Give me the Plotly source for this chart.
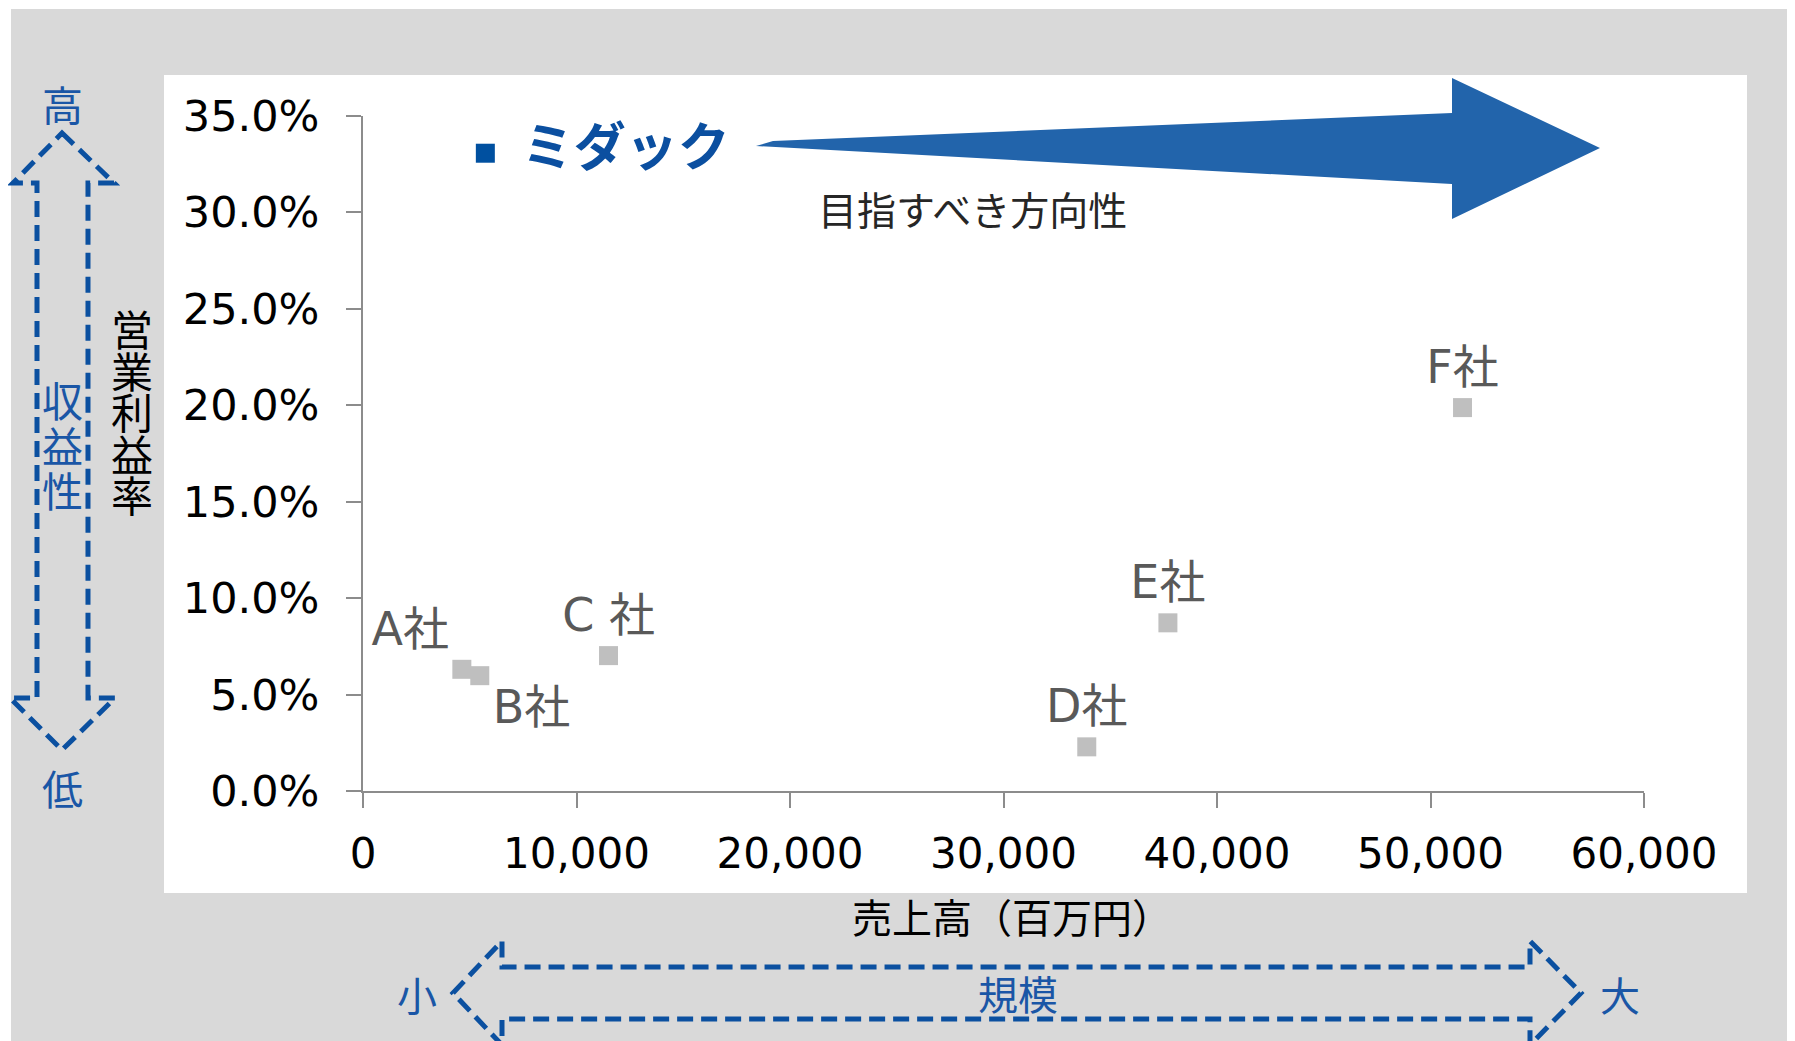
import plotly.graph_objects as go

# ---------------- data ----------------
companies = ["A社", "B社", "C 社", "D社", "E社", "F社"]
sales = [4630, 5470, 11500, 33900, 37700, 51500]          # 売上高（百万円）
margin = [0.0631, 0.0598, 0.0702, 0.0229, 0.0872, 0.1988]  # 営業利益率
label_pos = ["top left", "bottom right", "top center", "top center", "top center", "top center"]

midac_name = ["ミダック"]
midac_sales = [5730]
midac_margin = [0.3307]

x_ticks = [0, 10000, 20000, 30000, 40000, 50000, 60000]
y_ticks = [0, 0.05, 0.10, 0.15, 0.20, 0.25, 0.30, 0.35]

# ---------------- layout geometry ----------------
OFF = 8                      # page body margin
W, H = 1795 - OFF, 1041 - OFF
L, R, T, B = 363 - OFF, 151, 116 - OFF, 250
PW, PH = W - L - R, H - T - B

def px(x):
    return (x - OFF - L) / PW

def py(y):
    return (H - B - (y - OFF)) / PH

def path(points):
    return "M " + " L ".join(f"{px(a):.5f},{py(b):.5f}" for a, b in points) + " Z"

BLUE = "#0b50a0"
TXT_BLUE = "#1a56a6"
CJK = "Noto Sans CJK JP"
MIX = "DejaVu Sans, Noto Sans CJK JP"

fig = go.Figure()

fig.add_trace(go.Scatter(
    x=sales, y=margin, mode="markers+text", text=companies,
    textposition=label_pos,
    marker=dict(symbol="square", size=19, color="#bfbfbf"),
    textfont=dict(family=MIX, size=46, color="#595959"),
    hoverinfo="skip", showlegend=False,
))
fig.add_trace(go.Scatter(
    x=midac_sales, y=midac_margin, mode="markers+text",
    text=["\u00a0\u00a0" + t for t in midac_name],
    textposition="middle right",
    marker=dict(symbol="square", size=19, color="#0050a0"),
    textfont=dict(family=CJK, size=52, color="#0b4fa0", weight="bold"),
    hoverinfo="skip", showlegend=False,
))

shapes = []
shapes.append(dict(type="rect", xref="paper", yref="paper", x0=px(11), x1=px(1800), y0=py(1045), y1=py(9),
                   fillcolor="#d9d9d9", line=dict(width=0), layer="below"))
shapes.append(dict(type="rect", xref="paper", yref="paper", x0=px(164), x1=px(1747), y0=py(893), y1=py(75),
                   fillcolor="#ffffff", line=dict(width=0), layer="below"))
v_arrow = [(62, 133), (114, 183), (88, 183), (88, 698), (115, 698), (62, 750),
           (10, 698), (37, 698), (37, 183), (13, 183)]
shapes.append(dict(type="path", xref="paper", yref="paper", path=path(v_arrow),
                   line=dict(color=BLUE, width=5, dash="16px,8px"), fillcolor="rgba(0,0,0,0)"))
h_arrow = [(453, 993), (502, 941), (502, 967), (1530, 967), (1530, 941), (1581, 993),
           (1530, 1045), (1530, 1019), (502, 1019), (502, 1045)]
shapes.append(dict(type="path", xref="paper", yref="paper", path=path(h_arrow),
                   line=dict(color=BLUE, width=5, dash="16px,8px"), fillcolor="rgba(0,0,0,0)"))
big_arrow = [(756, 146), (773, 141), (1452, 113), (1452, 78), (1600, 148),
             (1452, 219), (1452, 184)]
shapes.append(dict(type="path", xref="paper", yref="paper", path=path(big_arrow),
                   line=dict(width=0), fillcolor="#2264ab"))

ann = []
def add_text(t, x, y, size, color, family=CJK):
    ann.append(dict(text=t, xref="paper", yref="paper", x=px(x), y=py(y), xanchor="center",
                    yanchor="middle", showarrow=False, font=dict(family=family, size=size, color=color)))

add_text("高", 62, 103, 41, TXT_BLUE)
add_text("低", 62, 787, 41, TXT_BLUE)
for i, ch in enumerate("収益性"):
    add_text(ch, 62.5, 399 + 45 * i, 41, TXT_BLUE)
for i, ch in enumerate("営業利益率"):
    add_text(ch, 132, 327.5 + 41.6 * i, 42, "#000000")
add_text("売上高（百万円）", 1012, 916, 40, "#000000")
add_text("規模", 1018, 993, 40, TXT_BLUE)
add_text("小", 417, 994, 40, TXT_BLUE)
add_text("大", 1620, 994, 40, TXT_BLUE)
add_text("目指すべき方向性", 972, 208, 39, "#262626")

axis_common = dict(showgrid=False, zeroline=False, showline=True, linecolor="#8c8c8c", linewidth=2,
                   ticks="outside", ticklen=15, tickwidth=2, tickcolor="#8c8c8c", mirror=False)

fig.update_layout(
    width=W, height=H, autosize=False,
    margin=dict(l=L, r=R, t=T, b=B, pad=0),
    paper_bgcolor="#ffffff", plot_bgcolor="rgba(0,0,0,0)",
    shapes=shapes, annotations=ann, showlegend=False,
    xaxis=dict(range=[0, 60000], tickvals=x_ticks, tickformat=",", ticklabelstandoff=10,
               tickfont=dict(family="DejaVu Sans", size=42, color="#000000"), **axis_common),
    yaxis=dict(range=[0, 0.35], tickvals=y_ticks, tickformat=".1%", ticklabelstandoff=18,
               tickfont=dict(family="DejaVu Sans", size=43, color="#000000"), **axis_common),
)

fig.write_html("out.html")
